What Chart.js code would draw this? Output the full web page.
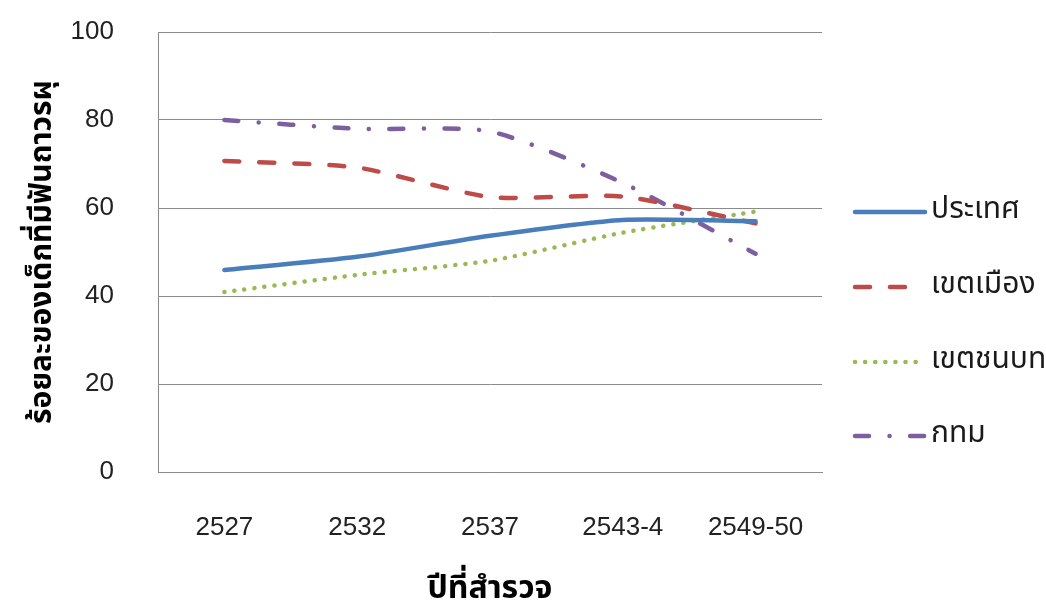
<!DOCTYPE html>
<html>
<head>
<meta charset="utf-8">
<script src="https://cdn.jsdelivr.net/npm/chart.js@4.4.1/dist/chart.umd.min.js"></script>
<style>
  html, body { margin: 0; padding: 0; background: #ffffff; }
  #wrap { width: 1046px; height: 602px; }
</style>
</head>
<body>
<div id="wrap"><canvas id="c" width="1046" height="602"></canvas></div>
<script>
// Survey rounds (Buddhist Era years)
const surveyYears = ['2527', '2532', '2537', '2543-4', '2549-50'];

// Percentage of children with permanent-tooth decay, by area
const nationalPct = [45.9, 48.9, 53.7, 57.3, 57.0];
const urbanPct    = [70.7, 69.2, 62.5, 62.6, 56.5];
const ruralPct    = [40.9, 44.8, 48.0, 54.4, 59.2];
const bangkokPct  = [80.0, 78.0, 77.4, 65.7, 49.6];

const seriesNames = ['ประเทศ', 'เขตเมือง', 'เขตชนบท', 'กทม'];
const yTicks = [0, 20, 40, 60, 80, 100];

const NUM_FONT = '"Liberation Sans", Arial, sans-serif';
const THAI_FONT = '"Noto Sans Thai", "Noto Sans", "DejaVu Sans", sans-serif';

function lineSeries(label, data, color, dash) {
  return {
    label: label,
    data: data,
    borderColor: color,
    backgroundColor: color,
    borderWidth: 4.5,
    borderDash: dash,
    borderCapStyle: 'round',
    borderJoinStyle: 'round',
    pointRadius: 0,
    pointHoverRadius: 0,
    pointStyle: 'line',
    tension: 0.22,
    fill: false
  };
}

// Legend drawn to the right of the plot, one sample line per series
const sideLegend = {
  id: 'sideLegend',
  afterDraw(chart) {
    const ctx = chart.ctx;
    const x0 = 855, x1 = 925, textX = 931;
    const rowY = [212, 287, 362, 436];
    ctx.save();
    chart.data.datasets.forEach((ds, i) => {
      const y = rowY[i];
      ctx.beginPath();
      ctx.strokeStyle = ds.borderColor;
      ctx.lineWidth = ds.borderWidth;
      ctx.lineCap = 'round';
      ctx.setLineDash(ds.borderDash || []);
      ctx.moveTo(x0, y);
      ctx.lineTo(x1, y);
      ctx.stroke();
      ctx.setLineDash([]);
      ctx.fillStyle = '#1a1a1a';
      ctx.font = '30px ' + THAI_FONT;
      ctx.textAlign = 'left';
      ctx.textBaseline = 'middle';
      ctx.fillText(ds.label, textX, y);
    });
    ctx.restore();
  }
};

new Chart(document.getElementById('c'), {
  type: 'line',
  data: {
    labels: surveyYears,
    datasets: [
      lineSeries(seriesNames[0], nationalPct, '#4A7EBB', []),
      lineSeries(seriesNames[1], urbanPct,    '#BE4B48', [15, 20]),
      lineSeries(seriesNames[2], ruralPct,    '#98B954', [0.1, 10]),
      lineSeries(seriesNames[3], bangkokPct,  '#7D5FA0', [14, 20.5, 0.1, 20.5])
    ]
  },
  options: {
    responsive: false,
    devicePixelRatio: 1,
    animation: false,
    layout: { padding: { left: 0, right: 224, top: 32, bottom: 0 } },
    plugins: {
      legend: { display: false },
      tooltip: { enabled: false }
    },
    scales: {
      x: {
        offset: true,
        grid: { display: false, drawTicks: false },
        border: { display: true, color: '#8a8a8a', width: 1 },
        ticks: {
          padding: 40,
          color: '#222222',
          font: { family: NUM_FONT, size: 26 }
        },
        title: {
          display: true,
          text: 'ปีที่สำรวจ',
          color: '#000000',
          font: { family: THAI_FONT, size: 32, weight: 'bold', lineHeight: 1.0 },
          padding: { top: 0, bottom: -6 }
        },
        afterFit(scale) {
          scale.height = 130;
          scale.paddingTop = 0;
          scale.paddingBottom = 0;
        }
      },
      y: {
        min: 0,
        max: 100,
        afterBuildTicks(scale) { scale.ticks = yTicks.map(v => ({ value: v })); },
        grid: { color: '#8a8a8a', lineWidth: 1, drawTicks: false },
        border: { display: true, color: '#8a8a8a', width: 1 },
        ticks: {
          padding: 44,
          color: '#222222',
          font: { family: NUM_FONT, size: 26 }
        },
        title: {
          display: true,
          text: 'ร้อยละของเด็กที่มีฟันถาวรผุ',
          color: '#000000',
          font: { family: THAI_FONT, size: 30, weight: 'bold', lineHeight: 1.0 },
          padding: { top: 30, bottom: 0 }
        },
        afterFit(scale) {
          scale.width = 158;
          scale.paddingTop = 0;
          scale.paddingBottom = 0;
        }
      }
    }
  },
  plugins: [sideLegend]
});
</script>
</body>
</html>
